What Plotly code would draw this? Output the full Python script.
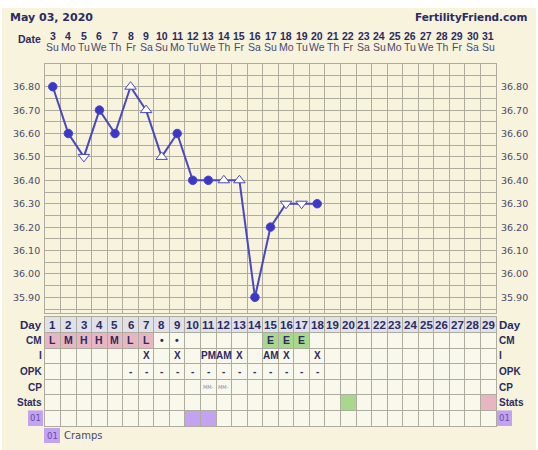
import plotly.graph_objects as go

W, H = 538, 450

# ---------------- data ----------------
cycle_days = [1, 2, 3, 4, 5, 6, 7, 8, 9, 10, 11, 12, 13, 14, 15, 16, 17, 18, 19, 20,
              21, 22, 23, 24, 25, 26, 27, 28, 29]
dates = [3, 4, 5, 6, 7, 8, 9, 10, 11, 12, 13, 14, 15, 16, 17, 18, 19, 20, 21, 22,
         23, 24, 25, 26, 27, 28, 29, 30, 31]
weekdays = ["Su", "Mo", "Tu", "We", "Th", "Fr", "Sa", "Su", "Mo", "Tu", "We", "Th", "Fr", "Sa",
            "Su", "Mo", "Tu", "We", "Th", "Fr", "Sa", "Su", "Mo", "Tu", "We", "Th", "Fr", "Sa", "Su"]

temp_days = [1, 2, 3, 4, 5, 6, 7, 8, 9, 10, 11, 12, 13, 14, 15, 16, 17, 18]
temps = [36.80, 36.60, 36.50, 36.70, 36.60, 36.80, 36.70, 36.50, 36.60,
         36.40, 36.40, 36.40, 36.40, 35.90, 36.20, 36.30, 36.30, 36.30]
temp_marks = ["dot", "dot", "down", "dot", "dot", "up", "up", "up", "dot",
              "dot", "dot", "up", "up", "dot", "dot", "down", "down", "dot"]

ytick_vals = [35.90, 36.00, 36.10, 36.20, 36.30, 36.40, 36.50, 36.60, 36.70, 36.80]
ytick_text = ["35.90", "36.00", "36.10", "36.20", "36.30", "36.40", "36.50", "36.60", "36.70", "36.80"]

row_labels = ["Day", "CM", "I", "OPK", "CP", "Stats", "01"]

cm_days = [1, 2, 3, 4, 5, 6, 7, 8, 9, 15, 16, 17]
cm_vals = ["L", "M", "H", "H", "M", "L", "L", "•", "•", "E", "E", "E"]
cm_fill = ["pink", "pink", "pink", "pink", "pink", "pink", "pink", "none", "none",
           "green", "green", "green"]

i_days = [7, 9, 11, 12, 13, 15, 16, 18]
i_vals = ["X", "X", "PM", "AM", "X", "AM", "X", "X"]

opk_days = [6, 7, 8, 9, 10, 11, 12, 13, 14, 15, 16, 17, 18]
opk_vals = ["-", "-", "-", "-", "-", "-", "-", "-", "-", "-", "-", "-", "-"]

cp_days = [11, 12]
cp_vals = ["MM-", "MM-"]

stats_days = [20, 29]
stats_fill = ["green", "pink"]

cramp_days = [10, 11]
legend_code = "01"
legend_text = "Cramps"

# ---------------- styles ----------------
CREAM = "#f7f3dc"
GRID = "#aeac9c"
NAVY = "#2b2b62"
LABEL = "#4a4a6c"
LINE = "#4a47c2"
DOT = "#3a38c8"
FILLS = {"pink": "#e8b6c3", "green": "#a8d88e", "purple": "#c3a2f2"}
DAYROW = "#e1e1ea"
CELLBG = "#f9f8ec"

BOLD = "Liberation Sans"
VERD = "DejaVu Sans"


def px(x):
    return x / W


def py(y):
    return 1 - y / H


X0, X1 = 45, 496
CH_TOP, CH_BOT = 64, 313
TB_TOP, TB_BOT = 317, 426

fig = go.Figure()

symbols = {"dot": "circle", "up": "triangle-up", "down": "triangle-down"}
fig.add_trace(go.Scatter(
    x=temp_days, y=temps, mode="lines+markers",
    line=dict(color=LINE, width=2),
    marker=dict(
        symbol=[symbols[m] for m in temp_marks],
        size=[8.5 if m == "dot" else 10 for m in temp_marks],
        color=[DOT if m == "dot" else "white" for m in temp_marks],
        opacity=1,
        line=dict(color=LINE, width=1),
    ),
    xaxis="x", yaxis="y", hoverinfo="skip", showlegend=False,
))

# invisible trace for the table subplot
fig.add_trace(go.Scatter(x=[1], y=[0.5], mode="markers", marker=dict(opacity=0),
                         xaxis="x2", yaxis="y2", hoverinfo="skip", showlegend=False))

shapes = []
annotations = []

# cream panel
shapes.append(dict(type="rect", xref="paper", yref="paper", x0=px(2), x1=px(536),
                   y0=py(450), y1=py(8), fillcolor=CREAM, line=dict(width=0), layer="below"))

# table backgrounds
shapes.append(dict(type="rect", xref="x2", yref="y2", x0=0.5, x1=29.5, y0=0, y1=7,
                   fillcolor=CELLBG, line=dict(width=0), layer="below"))
shapes.append(dict(type="rect", xref="x2", yref="y2", x0=0.5, x1=29.5, y0=0, y1=1,
                   fillcolor=DAYROW, line=dict(width=0), layer="below"))


def cell(day, row, color):
    shapes.append(dict(type="rect", xref="x2", yref="y2", x0=day - 0.5, x1=day + 0.5,
                       y0=row, y1=row + 1, fillcolor=FILLS[color], line=dict(width=0),
                       layer="below"))


def ctext(day, row, text, size=9, color=NAVY, font=BOLD, bold=True):
    annotations.append(dict(xref="x2", yref="y2", x=day, y=row + 0.5,
                            text=f"<b>{text}</b>" if bold else text, showarrow=False,
                            font=dict(family=font, size=size, color=color),
                            xanchor="center", yanchor="middle"))


for d in cycle_days:
    ctext(d, 0, str(d), size=11.5)
for d, v, f in zip(cm_days, cm_vals, cm_fill):
    if f != "none":
        cell(d, 1, f)
    ctext(d, 1, v, size=10.5)
for d, v in zip(i_days, i_vals):
    ctext(d, 2, v, size=10)
for d, v in zip(opk_days, opk_vals):
    ctext(d, 3, v, size=10)
for d, v in zip(cp_days, cp_vals):
    ctext(d, 4, v, size=5, color="#8a86b0", font=VERD, bold=False)
for d, f in zip(stats_days, stats_fill):
    cell(d, 5, f)
for d in cramp_days:
    cell(d, 6, "purple")

# row labels, left and right
for r, lab in enumerate(row_labels):
    if lab == "01":
        for xa, xb in ((28, 43), (497, 512)):
            shapes.append(dict(type="rect", xref="paper", yref="y2", x0=px(xa), x1=px(xb),
                               y0=r, y1=r + 1, fillcolor=FILLS["purple"], line=dict(width=0)))
            annotations.append(dict(xref="paper", yref="y2", x=px((xa + xb) / 2), y=r + 0.5,
                                    text=lab, showarrow=False, xanchor="center",
                                    yanchor="middle",
                                    font=dict(family=VERD, size=8.5, color="#6a4aa8")))
    else:
        fs = 11.5 if lab == "Day" else 10
        annotations.append(dict(xref="paper", yref="y2", x=px(43.5), y=r + 0.5,
                                text=f"<b>{lab}</b>", showarrow=False, xanchor="right",
                                yanchor="middle",
                                font=dict(family=BOLD, size=fs, color=NAVY)))
        annotations.append(dict(xref="paper", yref="y2", x=px(497), y=r + 0.5,
                                text=f"<b>{lab}</b>", showarrow=False, xanchor="left",
                                yanchor="middle",
                                font=dict(family=BOLD, size=fs, color=NAVY)))

# temperature labels both sides
for v, t in zip(ytick_vals, ytick_text):
    annotations.append(dict(xref="paper", yref="y", x=px(42), y=v, text=t, showarrow=False,
                            xanchor="right", yanchor="middle",
                            font=dict(family=VERD, size=9.5, color=LABEL)))
    annotations.append(dict(xref="paper", yref="y", x=px(499), y=v, text=t, showarrow=False,
                            xanchor="left", yanchor="middle",
                            font=dict(family=VERD, size=9.5, color=LABEL)))

# header
annotations.append(dict(xref="paper", yref="paper", x=px(8), y=py(17), text="<b>May 03, 2020</b>",
                        showarrow=False, xanchor="left", yanchor="middle",
                        font=dict(family=VERD, size=11, color=NAVY)))
annotations.append(dict(xref="paper", yref="paper", x=px(530), y=py(17),
                        text="<b>FertilityFriend.com</b>", showarrow=False, xanchor="right",
                        yanchor="middle", font=dict(family=VERD, size=10.5, color=NAVY)))
annotations.append(dict(xref="paper", yref="paper", x=px(43), y=py(39), text="<b>Date</b>",
                        showarrow=False, xanchor="right", yanchor="middle",
                        font=dict(family=BOLD, size=10.5, color=NAVY)))
for d, dt, wd in zip(cycle_days, dates, weekdays):
    annotations.append(dict(xref="x", yref="paper", x=d, y=py(35.5), text=f"<b>{dt}</b>",
                            showarrow=False, xanchor="center", yanchor="middle",
                            font=dict(family=BOLD, size=10.5, color=NAVY)))
    annotations.append(dict(xref="x", yref="paper", x=d, y=py(47.5), text=wd,
                            showarrow=False, xanchor="center", yanchor="middle",
                            font=dict(family=BOLD, size=10.5, color=LABEL)))

# legend below table
shapes.append(dict(type="rect", xref="paper", yref="paper", x0=px(44), x1=px(60),
                   y0=py(443), y1=py(428), fillcolor=FILLS["purple"], line=dict(width=0)))
annotations.append(dict(xref="paper", yref="paper", x=px(52), y=py(435.5), text=legend_code,
                        showarrow=False, xanchor="center", yanchor="middle",
                        font=dict(family=VERD, size=8.5, color="#6a4aa8")))
annotations.append(dict(xref="paper", yref="paper", x=px(62), y=py(435.5), text=legend_text,
                        showarrow=False, xanchor="left", yanchor="middle",
                        font=dict(family=VERD, size=10, color=LABEL)))

axis_common = dict(showticklabels=False, ticks="", zeroline=False, gridcolor=GRID,
                   gridwidth=1, showline=True, mirror=True, linecolor=GRID, linewidth=1,
                   fixedrange=True)

fig.update_layout(
    width=W, height=H, margin=dict(l=0, r=0, t=0, b=0),
    paper_bgcolor="white", plot_bgcolor=CREAM,
    xaxis=dict(domain=[px(X0), px(X1)], range=[0.5, 29.5], tickmode="linear", tick0=0.5,
               dtick=1, anchor="y", **axis_common),
    yaxis=dict(domain=[py(CH_BOT), py(CH_TOP)], range=[35.833, 36.897], tickmode="linear",
               tick0=35.85, dtick=0.05, anchor="x", **axis_common),
    xaxis2=dict(domain=[px(X0), px(X1)], range=[0.5, 29.5], tickmode="linear", tick0=0.5,
                dtick=1, anchor="y2", **axis_common),
    yaxis2=dict(domain=[py(TB_BOT), py(TB_TOP)], range=[7, 0], tickmode="linear", tick0=0,
                dtick=1, anchor="x2", **axis_common),
    shapes=shapes, annotations=annotations, showlegend=False,
)

fig.write_html(
    "out.html",
    config={"displayModeBar": False, "staticPlot": True},
    post_script="document.body.style.margin='0';document.body.style.overflow='hidden';",
)
